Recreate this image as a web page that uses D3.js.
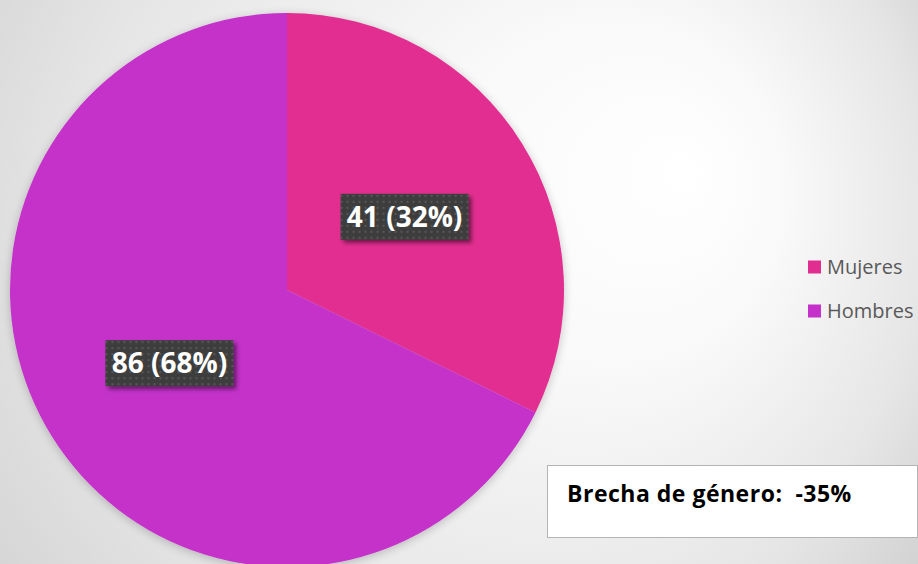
<!DOCTYPE html>
<html><head><meta charset="utf-8">
<script src="https://cdn.jsdelivr.net/npm/d3@7"></script>
<style>html,body{margin:0;padding:0;overflow:hidden;background:#fff}</style>
</head><body>
<svg id="c" width="918" height="564"></svg>
<script>
const categories = ["Mujeres", "Hombres"];
const values = [41, 86];
const percents = ["32%", "68%"];
const colors = ["#E22D90", "#C430C9"];
const gapText = "Brecha de género:  -35%";

const W = 918, H = 564;
const svg = d3.select("#c");
const defs = svg.append("defs");

const bg = defs.append("radialGradient").attr("id","bg")
  .attr("gradientUnits","userSpaceOnUse").attr("cx",380).attr("cy",260).attr("r",700)
  .attr("fx",690).attr("fy",170);
bg.append("stop").attr("offset","0%").attr("stop-color","#ffffff");
bg.append("stop").attr("offset","25%").attr("stop-color","#f9f9f9");
bg.append("stop").attr("offset","60%").attr("stop-color","#e6e6e6");
bg.append("stop").attr("offset","100%").attr("stop-color","#c4c4c4");
svg.append("rect").attr("width",W).attr("height",H).attr("fill","url(#bg)");

const sh = defs.append("filter").attr("id","sh").attr("x","-20%").attr("y","-20%").attr("width","140%").attr("height","140%");
sh.append("feGaussianBlur").attr("in","SourceAlpha").attr("stdDeviation",5);
sh.append("feOffset").attr("dx",0).attr("dy",2).attr("result","b");
sh.append("feComponentTransfer").append("feFuncA").attr("type","linear").attr("slope",0.22);
const m = sh.append("feMerge"); m.append("feMergeNode"); m.append("feMergeNode").attr("in","SourceGraphic");

const sh2 = defs.append("filter").attr("id","sh2").attr("x","-20%").attr("y","-30%").attr("width","140%").attr("height","160%");
sh2.append("feGaussianBlur").attr("in","SourceAlpha").attr("stdDeviation",2);
sh2.append("feOffset").attr("dx",3).attr("dy",3).attr("result","b");
sh2.append("feComponentTransfer").append("feFuncA").attr("type","linear").attr("slope",0.5);
const m2 = sh2.append("feMerge"); m2.append("feMergeNode"); m2.append("feMergeNode").attr("in","SourceGraphic");

const pat = defs.append("pattern").attr("id","dots").attr("patternUnits","userSpaceOnUse")
  .attr("width",6).attr("height",6);
pat.append("rect").attr("width",6).attr("height",6).attr("fill","#3e3e3e");
pat.append("rect").attr("x",2).attr("y",2).attr("width",2).attr("height",2).attr("fill","#565656");

const cx = 287, cy = 290, R = 277;
const pie = d3.pie().sort(null).value(d => d)(values);
const arc = d3.arc().innerRadius(0).outerRadius(R);
const labelArc = d3.arc().innerRadius(R*0.5).outerRadius(R*0.5);

const g = svg.append("g").attr("transform",`translate(${cx},${cy})`).attr("filter","url(#sh)");
g.selectAll("path").data(pie).join("path")
  .attr("d", arc).attr("fill",(d,i)=>colors[i]);

const lg = svg.append("g").attr("transform",`translate(${cx},${cy})`);
pie.forEach((d,i)=>{
  const [x,y] = labelArc.centroid(d);
  const bw = 128, bh = 46;
  const gg = lg.append("g").attr("transform",`translate(${x},${y})`);
  gg.append("rect").attr("x",-bw/2).attr("y",-bh/2).attr("width",bw).attr("height",bh)
    .attr("fill","url(#dots)").attr("filter","url(#sh2)");
  gg.append("text").attr("text-anchor","middle").attr("dy","0.36em")
    .attr("font-family","'Open Sans', sans-serif").attr("font-weight","bold")
    .attr("font-size",28).attr("fill","#ffffff")
    .text(`${values[i]} (${percents[i]})`);
});

const leg = svg.append("g");
categories.forEach((c,i)=>{
  const y = 267 + i*44;
  leg.append("rect").attr("x",808).attr("y",y-6.5).attr("width",13).attr("height",13).attr("fill",colors[i]);
  leg.append("text").attr("x",827).attr("y",y).attr("dy","0.36em")
    .attr("font-family","'Open Sans', sans-serif").attr("font-size",20).attr("fill","#595959").text(c);
});

svg.append("rect").attr("x",547.5).attr("y",465.5).attr("width",370).attr("height",72)
  .attr("fill","#ffffff").attr("stroke","#b4b4b4").attr("stroke-width",1);
svg.append("text").attr("x",567).attr("y",502).style("white-space","pre")
  .attr("font-family","'Open Sans', sans-serif").attr("font-weight","bold")
  .attr("letter-spacing",0.5)
  .attr("font-size",23).attr("fill","#000").text(gapText);
</script>
</body></html>
